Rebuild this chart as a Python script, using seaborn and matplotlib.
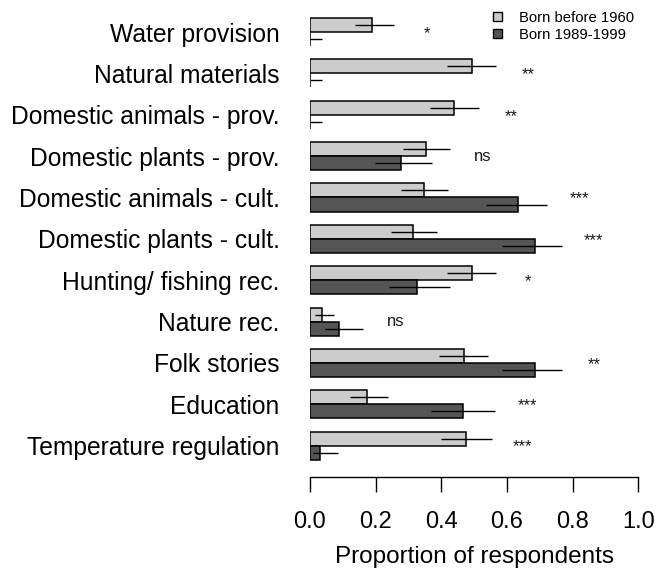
import matplotlib
matplotlib.use("Agg")
import matplotlib.pyplot as plt
import seaborn as sns
import pandas as pd
from matplotlib.patches import Patch

categories = ["Water provision", "Natural materials", "Domestic animals - prov.",
              "Domestic plants - prov.", "Domestic animals - cult.", "Domestic plants - cult.",
              "Hunting/ fishing rec.", "Nature rec.", "Folk stories", "Education",
              "Temperature regulation"]
groups = ["Born before 1960", "Born 1989-1999"]

old_vals = [0.19, 0.493, 0.44, 0.353, 0.347, 0.313, 0.493, 0.036, 0.468, 0.173, 0.474]
old_lo = [0.137, 0.416, 0.365, 0.284, 0.278, 0.246, 0.416, 0.015, 0.393, 0.122, 0.40]
old_hi = [0.257, 0.566, 0.515, 0.427, 0.421, 0.386, 0.566, 0.074, 0.543, 0.239, 0.554]

young_vals = [0.0, 0.0, 0.0, 0.276, 0.635, 0.684, 0.327, 0.089, 0.684, 0.466, 0.03]
young_lo = [0.0, 0.0, 0.0, 0.198, 0.535, 0.586, 0.242, 0.046, 0.586, 0.369, 0.008]
young_hi = [0.037, 0.037, 0.037, 0.372, 0.723, 0.768, 0.425, 0.161, 0.768, 0.564, 0.084]

sig_labels = ["*", "**", "**", "ns", "***", "***", "*", "ns", "**", "***", "***"]
sig_x = [0.355, 0.664, 0.614, 0.526, 0.82, 0.865, 0.664, 0.261, 0.865, 0.661, 0.648]

colors = ["#cccccc", "#555555"]

sns.set_style("white")
plt.rcParams["font.family"] = ["Liberation Sans", "DejaVu Sans"]
plt.rcParams["text.color"] = "black"
plt.rcParams["axes.labelcolor"] = "black"
plt.rcParams["xtick.color"] = "black"
plt.rcParams["ytick.color"] = "black"

df = pd.DataFrame({
    "category": categories * 2,
    "value": old_vals + young_vals,
    "group": [groups[0]] * len(categories) + [groups[1]] * len(categories),
})

fig = plt.figure(figsize=(6.57, 5.77), dpi=100)
ax = fig.add_axes([310 / 657, 100 / 577, 328.3 / 657, 467 / 577])

sns.barplot(data=df, x="value", y="category", hue="group", order=categories,
            hue_order=groups, palette=colors, width=0.68, orient="h",
            edgecolor="black", linewidth=1.1, saturation=1, legend=False, ax=ax)

lows = [old_lo, young_lo]
highs = [old_hi, young_hi]
for gi, cont in enumerate(ax.containers):
    for bi, bar in enumerate(cont):
        yc = bar.get_y() + bar.get_height() / 2
        ax.plot([lows[gi][bi], highs[gi][bi]], [yc, yc], color="black", lw=1.0,
                solid_capstyle="butt", zorder=5)

for i, (lab, xx) in enumerate(zip(sig_labels, sig_x)):
    dy = 0 if lab == "ns" else -1
    ax.annotate(lab, (xx, i), xytext=(0, dy), textcoords="offset points",
                ha="center", va="center", fontsize=12, color="#1a1a1a")

ax.set_xlim(0, 1)
ax.set_ylim(10.757, -0.532)
ax.set_xticks([0, 0.2, 0.4, 0.6, 0.8, 1.0])
ax.set_xticklabels(["0.0", "0.2", "0.4", "0.6", "0.8", "1.0"])
ax.tick_params(axis="x", direction="out", length=10.6, width=1.0, color="black",
               labelsize=17, labelcolor="black", pad=14, bottom=True)
ax.tick_params(axis="y", length=0, labelsize=17.7, labelcolor="black", pad=22)
for s in ["top", "right", "left"]:
    ax.spines[s].set_visible(False)
ax.spines["bottom"].set_color("black")
ax.spines["bottom"].set_linewidth(1.0)
ax.set_xlabel("Proportion of respondents", fontsize=17.5, labelpad=9, color="black")
ax.set_ylabel("")

handles = [Patch(facecolor=c, edgecolor="black", linewidth=1.0) for c in colors]
ax.legend(handles, groups, loc="upper left", bbox_to_anchor=(493 / 657, 1 - 11 / 577),
          bbox_transform=fig.transFigure, frameon=False, fontsize=10.7,
          handlelength=0.6, handleheight=0.6, handletextpad=1.15, labelspacing=0.2,
          borderpad=0, borderaxespad=0)

fig.savefig("out.png", dpi=100)
